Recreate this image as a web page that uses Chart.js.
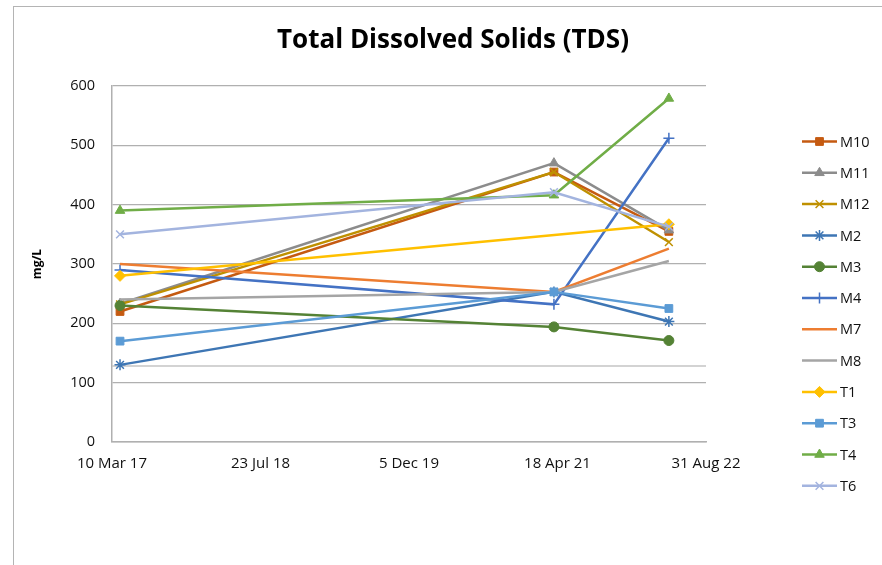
<!DOCTYPE html>
<html lang="en">
<head>
    <meta charset="UTF-8">
    <title>Total Dissolved Solids (TDS)</title>
    <script src="https://cdn.jsdelivr.net/npm/chart.js"></script>
    <style>
        body { margin: 0; background: #fff; overflow: hidden; }
        #frame { position: absolute; left: 13px; top: 6px; width: 900px; height: 600px; border: 1px solid #b4b4b4; }
        #wrap { position: absolute; left: 0; top: 0; width: 882px; height: 565px; }
    </style>
</head>
<body>
    <div id="frame"></div>
    <div id="wrap"><canvas id="tdsChart" width="882" height="565"></canvas></div>

    <script>
        // sampling dates and axis range
        const sampleDates = ['2017-04-06', '2021-04-06', '2022-04-28'];
        const axisStart = '2017-03-10';
        const axisEnd = '2022-08-31';
        const tickStepDays = 500;
        const yTicks = [0, 100, 200, 300, 400, 500, 600];

        const siteNames = ['M10', 'M11', 'M12', 'M2', 'M3', 'M4', 'M7', 'M8', 'T1', 'T3', 'T4', 'T6'];
        const m10 = [220, 455, 355];
        const m11 = [233, 470, 357];
        const m12 = [232, 455, 337];
        const m2 = [130, 253, 203];
        const m3 = [230, 194, 171];
        const m4 = [290, 232, 512];
        const m7 = [300, 253, 326];
        const m8 = [240, 253, 305];
        const t1 = [280, null, 367];
        const t3 = [170, 253, 225];
        const t4 = [390, 416, 579];
        const t6 = [350, 421, 363];
        const guideValue = 128;

        const seriesValues = [m10, m11, m12, m2, m3, m4, m7, m8, t1, t3, t4, t6];
        const colors = ['#C55A11', '#8C8C8C', '#BF9000', '#3E76B4', '#548235', '#4472C4',
                        '#ED7D31', '#A5A5A5', '#FFC000', '#5B9BD5', '#70AD47', '#A3B4DF'];
        const markers = ['rect', 'triangle', 'crossRot', 'star', 'circle', 'cross',
                         false, false, 'rectRot', 'rect', 'triangle', 'crossRot'];

        const DAY = 86400000;
        const toMs = s => Date.parse(s + 'T00:00:00Z');
        const MONTHS = ['Jan', 'Feb', 'Mar', 'Apr', 'May', 'Jun', 'Jul', 'Aug', 'Sep', 'Oct', 'Nov', 'Dec'];
        function fmtDate(ms) {
            const d = new Date(ms);
            return d.getUTCDate() + ' ' + MONTHS[d.getUTCMonth()] + ' ' + String(d.getUTCFullYear()).slice(2);
        }

        const FONT = '"Open Sans", Lato, sans-serif';

        const datasets = siteNames.map((name, i) => ({
            label: name,
            data: seriesValues[i].map((v, j) => ({ x: toMs(sampleDates[j]), y: v })),
            borderColor: colors[i],
            backgroundColor: colors[i],
            borderWidth: 2.5,
            pointStyle: markers[i] || 'circle',
            pointRadius: markers[i] ? (markers[i] === 'circle' ? 5 : 5.5) : 0,
            pointBorderWidth: ['cross', 'crossRot', 'star'].includes(markers[i]) ? 1.5 : 1,
            spanGaps: true,
            order: siteNames.length - i
        }));

        // light reference line across the plot
        datasets.push({
            label: 'guide',
            data: [{ x: toMs(axisStart), y: guideValue }, { x: toMs(axisEnd), y: guideValue }],
            borderColor: '#c4c4c4',
            borderWidth: 1.5,
            pointRadius: 0,
            order: 50
        });

        // title centred on the whole chart + Excel-style legend (line with marker)
        const chartDecor = {
            id: 'chartDecor',
            afterDraw(chart) {
                const ctx = chart.ctx;
                ctx.save();
                ctx.fillStyle = '#000';
                ctx.font = 'bold 26px ' + FONT;
                ctx.textAlign = 'center';
                ctx.textBaseline = 'middle';
                ctx.fillText('Total Dissolved Solids (TDS)', 453, 41);

                siteNames.forEach((name, i) => {
                    const ds = chart.data.datasets[i];
                    const y = 141.5 + i * 31.3;
                    ctx.strokeStyle = ds.borderColor;
                    ctx.lineWidth = 2.5;
                    ctx.beginPath();
                    ctx.moveTo(802, y);
                    ctx.lineTo(837, y);
                    ctx.stroke();
                    if (markers[i]) {
                        ctx.fillStyle = ds.backgroundColor;
                        ctx.lineWidth = ds.pointBorderWidth;
                        Chart.helpers.drawPoint(ctx, {
                            pointStyle: markers[i], radius: ds.pointRadius,
                            rotation: 0, borderWidth: ds.pointBorderWidth
                        }, 819.5, y);
                    }
                    ctx.fillStyle = '#111';
                    ctx.font = '14.5px ' + FONT;
                    ctx.textBaseline = 'middle';
                    ctx.textAlign = 'left';
                    ctx.fillText(name, 840, y + 1);
                });
                ctx.restore();
            }
        };

        new Chart(document.getElementById('tdsChart'), {
            type: 'line',
            data: { datasets },
            plugins: [chartDecor],
            options: {
                responsive: false,
                animation: false,
                layout: { padding: { left: 26, right: 176, top: 86, bottom: 0 } },
                plugins: {
                    legend: { display: false },
                    tooltip: { enabled: false },
                    title: { display: false }
                },
                scales: {
                    x: {
                        type: 'linear',
                        min: toMs(axisStart),
                        max: toMs(axisEnd),
                        ticks: {
                            stepSize: tickStepDays * DAY,
                            callback: v => fmtDate(v),
                            color: '#111',
                            font: { family: FONT, size: 15 },
                            padding: 13,
                            maxRotation: 0,
                            autoSkip: false
                        },
                        grid: { display: false, drawTicks: false },
                        border: { color: '#b0b0b0', width: 1.5 },
                        afterFit: s => { s.height = 123; }
                    },
                    y: {
                        min: yTicks[0],
                        max: yTicks[yTicks.length - 1],
                        ticks: {
                            stepSize: yTicks[1] - yTicks[0],
                            color: '#111',
                            font: { family: FONT, size: 14.5 },
                            padding: 17
                        },
                        grid: { color: '#b0b0b0', lineWidth: 1.2, drawTicks: false },
                        border: { color: '#b0b0b0', width: 1.5 },
                        title: {
                            display: true,
                            text: 'mg/L',
                            color: '#000',
                            font: { family: FONT, size: 12, weight: 'bold' },
                            padding: { top: 4, bottom: 0 }
                        },
                        afterFit: s => { s.width = 86; }
                    }
                }
            }
        });
    </script>
</body>
</html>
